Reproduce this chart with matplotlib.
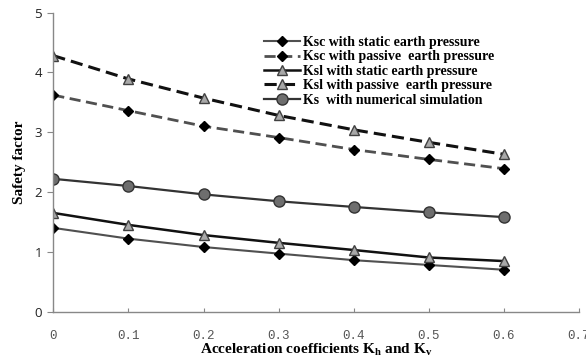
import matplotlib
matplotlib.use('Agg')
import matplotlib.pyplot as plt

# acceleration coefficients (x axis)
acc = [0, 0.1, 0.2, 0.3, 0.4, 0.5, 0.6]

# safety factors
ksc_static = [1.40, 1.22, 1.08, 0.97, 0.86, 0.78, 0.70]
ksc_passive = [3.62, 3.36, 3.10, 2.91, 2.71, 2.545, 2.39]
ksl_static = [1.65, 1.45, 1.28, 1.15, 1.03, 0.905, 0.845]
ksl_passive = [4.28, 3.89, 3.57, 3.28, 3.04, 2.83, 2.63]
ks_numerical = [2.22, 2.10, 1.96, 1.845, 1.75, 1.66, 1.58]

labels = ['Ksc with static earth pressure',
          'Ksc with passive  earth pressure',
          'Ksl with static earth pressure',
          'Ksl with passive  earth pressure',
          'Ks  with numerical simulation']

xticks = [0, 0.1, 0.2, 0.3, 0.4, 0.5, 0.6, 0.7]
yticks = [0, 1, 2, 3, 4, 5]

plt.rcParams['mathtext.fontset'] = 'custom'
plt.rcParams['mathtext.rm'] = 'Liberation Serif:bold'
plt.rcParams['mathtext.bf'] = 'Liberation Serif:bold'

fig = plt.figure(figsize=(5.86, 3.59), dpi=100)
ax = fig.add_axes([0.091, 0.132, 0.897, 0.833])

ax.plot(acc, ksc_static, color='#505050', lw=1.5, marker='D', ms=5,
        mfc='black', mec='black', label=labels[0])
ax.plot(acc, ksc_passive, color='#505050', lw=2, dashes=(4, 2), marker='D', ms=5,
        mfc='black', mec='black', label=labels[1])
ax.plot(acc, ksl_static, color='#111111', lw=1.8, marker='^', ms=7.5,
        mfc='#a8a8a8', mec='#404040', label=labels[2])
ax.plot(acc, ksl_passive, color='#111111', lw=2.2, dashes=(4, 2), marker='^', ms=7.5,
        mfc='#a8a8a8', mec='#404040', label=labels[3])
ax.plot(acc, ks_numerical, color='#333333', lw=1.6, marker='o', ms=8,
        mfc='#6e6e6e', mec='#333333', label=labels[4])

ax.set_xlim(0, 0.7)
ax.set_ylim(0, 5)
ax.set_xticks(xticks)
ax.set_xticklabels(['0' if t == 0 else f'{t:.1f}' for t in xticks],
                   family='Liberation Mono', fontsize=9, color='#555555')
ax.set_yticks(yticks)
ax.set_yticklabels([str(t) for t in yticks], family='Open Sans', fontsize=9.5,
                   color='#222222')

for side in ['top', 'right']:
    ax.spines[side].set_visible(False)
for side in ['left', 'bottom']:
    ax.spines[side].set_color('#888888')
    ax.spines[side].set_linewidth(1)
ax.tick_params(axis='x', direction='in', length=3, color='#888888', pad=13)
ax.tick_params(axis='y', direction='out', length=4, color='#888888', pad=4)

ax.set_xlabel(r'Acceleration coefficients K$_{\mathrm{h}}$ and K$_{\mathrm{v}}$',
              family='Liberation Serif', fontweight='bold', fontsize=11, labelpad=0)
ax.set_ylabel('Safety factor', family='Liberation Serif', fontweight='bold',
              fontsize=11, labelpad=6)

ax.legend(loc='upper left', bbox_to_anchor=(0.39, 0.94), frameon=False,
          prop={'family': 'Liberation Serif', 'weight': 'bold', 'size': 10},
          handlelength=2.6, handletextpad=0.2, labelspacing=0.1,
          borderaxespad=0)

fig.savefig('out.png', dpi=100)
